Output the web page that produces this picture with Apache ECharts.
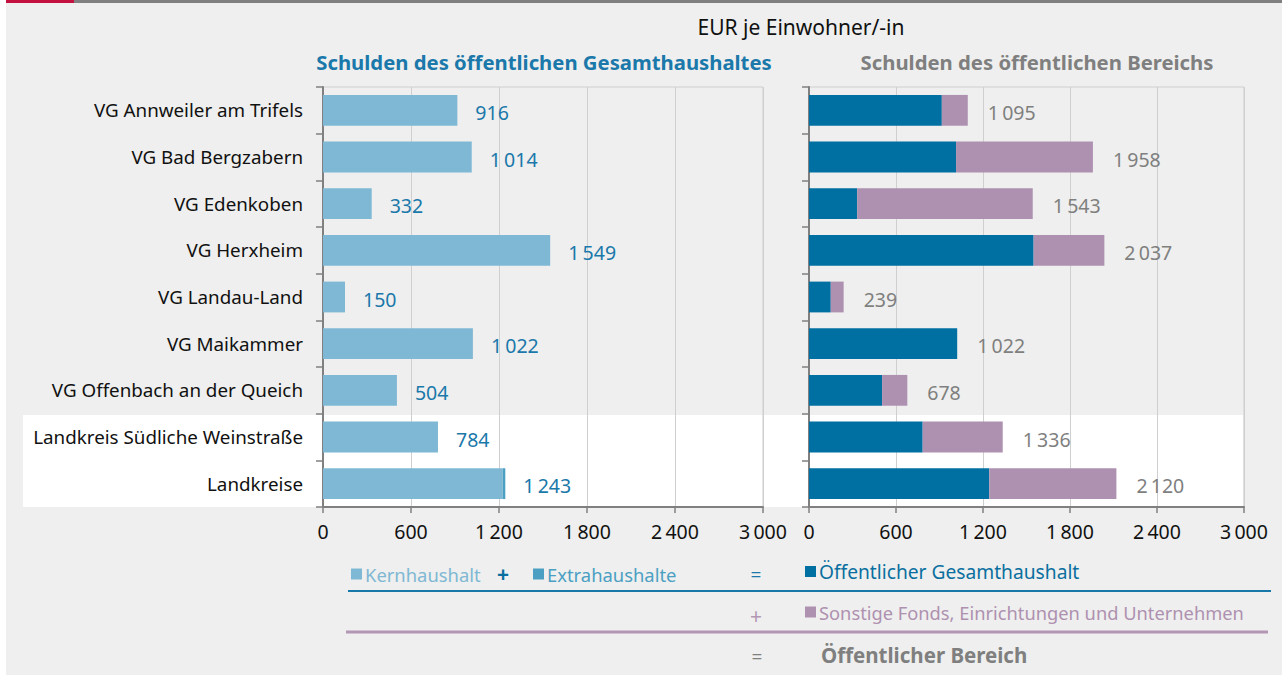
<!DOCTYPE html>
<html>
<head>
<meta charset="utf-8">
<script src="https://cdn.jsdelivr.net/npm/echarts@6/dist/echarts.min.js"></script>
<style>
  html, body { margin: 0; padding: 0; background: #ffffff; }
  #chart { width: 1282px; height: 675px; }
</style>
</head>
<body>
<div id="chart"></div>
<script>
// Debt per inhabitant (EUR), Südliche Weinstraße and its Verbandsgemeinden
const categories = [
  'VG Annweiler am Trifels',
  'VG Bad Bergzabern',
  'VG Edenkoben',
  'VG Herxheim',
  'VG Landau-Land',
  'VG Maikammer',
  'VG Offenbach an der Queich',
  'Landkreis Südliche Weinstraße',
  'Landkreise'
];
// Öffentlicher Gesamthaushalt (Kernhaushalt + Extrahaushalte)
const gesamtTotal = [916, 1014, 332, 1549, 150, 1022, 504, 784, 1243];
// Extrahaushalte share of the Gesamthaushalt
const extraValues = [0, 0, 0, 0, 0, 0, 0, 0, 18];
// Öffentlicher Bereich (Gesamthaushalt + sonstige Fonds, Einrichtungen und Unternehmen)
const bereichTotal = [1095, 1958, 1543, 2037, 239, 1022, 678, 1336, 2120];
const axisTicks = [0, 600, 1200, 1800, 2400, 3000];

const kernValues = gesamtTotal.map((v, i) => v - extraValues[i]);
const sonstigeValues = bereichTotal.map((v, i) => v - gesamtTotal[i]);

const FONT = 'Noto Sans';
const C_KERN = '#7fb8d4';
const C_EXTRA = '#4b9fc3';
const C_GESAMT = '#0070a3';
const C_SONST = '#ae91b0';
const C_BLUE_TXT = '#1a78aa';
const C_GRAY_TXT = '#7f7f7f';

function fmt(n) {
  if (n < 1000) return String(n);
  const th = Math.floor(n / 1000);
  const rest = String(n % 1000).padStart(3, '0');
  return th + '\u2009' + rest;
}

const chart = echarts.init(document.getElementById('chart'), null, { renderer: 'svg' });

function xAxisFor(gridIndex) {
  return {
    gridIndex: gridIndex,
    type: 'value',
    min: axisTicks[0], max: axisTicks[axisTicks.length - 1], interval: axisTicks[1] - axisTicks[0],
    axisLine: { show: true, lineStyle: { color: '#808080', width: 2 } },
    axisTick: { show: true, length: 6, lineStyle: { color: '#808080', width: 1.5 } },
    axisLabel: { color: '#111', fontSize: 19.5, fontFamily: FONT, margin: 14,
      formatter: v => fmt(v) },
    splitLine: { show: true, lineStyle: { color: '#cfcfcf', width: 1 } }
  };
}

function yAxisFor(gridIndex, showLabels) {
  return {
    gridIndex: gridIndex,
    type: 'category',
    data: categories,
    inverse: true,
    axisLine: { show: true, lineStyle: { color: '#808080', width: 2 } },
    axisTick: { show: true, length: 7, lineStyle: { color: '#808080', width: 1.5 } },
    axisLabel: { show: showLabels, color: '#111', fontSize: 18.8, fontFamily: FONT, margin: 20,
      padding: [0, 0, 8, 0] },
    splitLine: { show: false }
  };
}

function legendItem(name, left, top, color, size) {
  return {
    data: [name],
    left: left, top: top,
    padding: 0,
    itemWidth: 11, itemHeight: 11, itemGap: 0,
    icon: 'rect',
    selectedMode: false,
    textStyle: { color: color, fontSize: size, fontFamily: FONT, padding: [0, 0, 0, -2] }
  };
}

const option = {
  backgroundColor: '#ffffff',
  animation: false,
  textStyle: { fontFamily: FONT },
  graphic: [
    // page background and top rule
    { type: 'rect', z: -20, shape: { x: 6, y: 0, width: 1276, height: 675 }, style: { fill: '#eeefee' } },
    { type: 'rect', z: -19, shape: { x: 6, y: 0, width: 68, height: 3 }, style: { fill: '#c4103f' } },
    { type: 'rect', z: -19, shape: { x: 74, y: 0, width: 1208, height: 3 }, style: { fill: '#808080' } },
    // highlight band behind the two district rows
    { type: 'rect', z: -18, shape: { x: 23, y: 415, width: 1220, height: 92 }, style: { fill: '#ffffff' } },
    // headings
    { type: 'text', x: 801, y: 27, style: { text: 'EUR je Einwohner/-in', fill: '#111', font: '21px "Noto Sans"', textAlign: 'center', textVerticalAlign: 'middle' } },
    { type: 'text', x: 544, y: 62, style: { text: 'Schulden des öffentlichen Gesamthaushaltes', fill: C_BLUE_TXT, font: 'bold 20.3px "Noto Sans"', textAlign: 'center', textVerticalAlign: 'middle' } },
    { type: 'text', x: 1037, y: 62, style: { text: 'Schulden des öffentlichen Bereichs', fill: C_GRAY_TXT, font: 'bold 20.3px "Noto Sans"', textAlign: 'center', textVerticalAlign: 'middle' } },
    // legend equation signs and rules
    { type: 'text', x: 503, y: 574, style: { text: '+', fill: '#0a6fa0', font: 'bold 21px "Noto Sans"', textAlign: 'center', textVerticalAlign: 'middle' } },
    { type: 'text', x: 756, y: 575, style: { text: '=', fill: C_BLUE_TXT, font: '19px "Noto Sans"', textAlign: 'center', textVerticalAlign: 'middle' } },
    { type: 'line', shape: { x1: 348, y1: 591, x2: 1271, y2: 591 }, style: { stroke: '#1878aa', lineWidth: 2 } },
    { type: 'text', x: 756, y: 616, style: { text: '+', fill: '#b296b4', font: '21px "Noto Sans"', textAlign: 'center', textVerticalAlign: 'middle' } },
    { type: 'line', shape: { x1: 346, y1: 632, x2: 1268, y2: 632 }, style: { stroke: '#b296b4', lineWidth: 3 } },
    { type: 'text', x: 757, y: 657, style: { text: '=', fill: C_GRAY_TXT, font: '19px "Noto Sans"', textAlign: 'center', textVerticalAlign: 'middle' } },
    { type: 'text', x: 821, y: 655, style: { text: 'Öffentlicher Bereich', fill: C_GRAY_TXT, font: 'bold 20.5px "Noto Sans"', textAlign: 'left', textVerticalAlign: 'middle' } }
  ],
  legend: [
    legendItem('Kernhaushalt', 351, 565, C_KERN, 18.4),
    legendItem('Extrahaushalte', 533, 565, C_EXTRA, 18.4),
    legendItem('Öffentlicher Gesamthaushalt', 805, 562, '#0a6fa0', 19.2),
    legendItem('Sonstige Fonds, Einrichtungen und Unternehmen', 805, 603, C_SONST, 18.3)
  ],
  grid: [
    { left: 323, right: 519, top: 87, bottom: 168, show: true, borderColor: '#cfcfcf', borderWidth: 1, backgroundColor: 'transparent' },
    { left: 809, right: 38, top: 87, bottom: 168, show: true, borderColor: '#cfcfcf', borderWidth: 1, backgroundColor: 'transparent' }
  ],
  xAxis: [xAxisFor(0), xAxisFor(1)],
  yAxis: [yAxisFor(0, true), yAxisFor(1, false)],
  series: [
    {
      name: 'Kernhaushalt', type: 'bar', stack: 'gesamt',
      xAxisIndex: 0, yAxisIndex: 0,
      barWidth: '66%',
      itemStyle: { color: C_KERN },
      data: kernValues
    },
    {
      name: 'Extrahaushalte', type: 'bar', stack: 'gesamt',
      xAxisIndex: 0, yAxisIndex: 0,
      barWidth: '66%',
      itemStyle: { color: C_EXTRA },
      label: {
        show: true, position: 'right', distance: 18, offset: [0, 2],
        color: C_BLUE_TXT, fontSize: 19.5, fontFamily: FONT,
        formatter: p => fmt(gesamtTotal[p.dataIndex])
      },
      data: extraValues
    },
    {
      name: 'Öffentlicher Gesamthaushalt', type: 'bar', stack: 'bereich',
      xAxisIndex: 1, yAxisIndex: 1,
      barWidth: '66%',
      itemStyle: { color: C_GESAMT },
      data: gesamtTotal
    },
    {
      name: 'Sonstige Fonds, Einrichtungen und Unternehmen', type: 'bar', stack: 'bereich',
      xAxisIndex: 1, yAxisIndex: 1,
      barWidth: '66%',
      itemStyle: { color: C_SONST },
      label: {
        show: true, position: 'right', distance: 20, offset: [0, 2],
        color: C_GRAY_TXT, fontSize: 19.5, fontFamily: FONT,
        formatter: p => fmt(bereichTotal[p.dataIndex])
      },
      data: sonstigeValues
    }
  ]
};

chart.setOption(option);
</script>
</body>
</html>
